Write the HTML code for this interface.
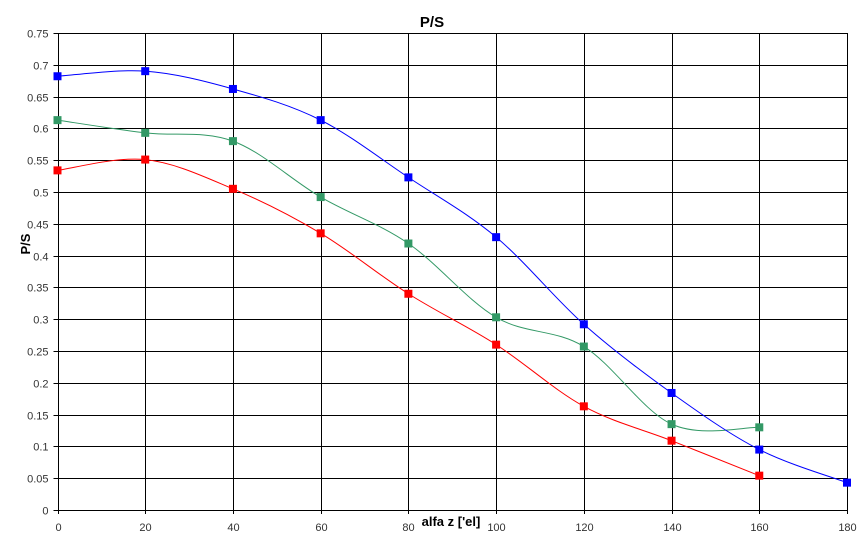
<!DOCTYPE html>
<html><head><meta charset="utf-8"><style>
body{margin:0;background:#fff}
svg{display:block;font-family:"Liberation Sans",sans-serif}
</style></head><body>
<svg id="chart" width="865" height="545"></svg>
<script>
const categories=[0,20,40,60,80,100,120,140,160,180];
const blueValues=[0.682,0.690,0.662,0.613,0.523,0.429,0.292,0.184,0.095,0.043];
const greenValues=[0.613,0.593,0.580,0.492,0.419,0.303,0.257,0.135,0.130];
const redValues=[0.534,0.551,0.505,0.435,0.340,0.260,0.163,0.109,0.054];
const yTicks=[0,0.05,0.1,0.15,0.2,0.25,0.3,0.35,0.4,0.45,0.5,0.55,0.6,0.65,0.7,0.75];
const xTicks=[0,20,40,60,80,100,120,140,160,180];
const NS="http://www.w3.org/2000/svg";
const svg=document.getElementById('chart');
const X0=57.5,X1=847,Y0=510,Y1=33;
const xs=v=>X0+(v/180)*(X1-X0);
const ys=v=>Y0-(v/0.75)*(Y0-Y1);
function mk(t,a,p){const e=document.createElementNS(NS,t);for(const k in a)e.setAttribute(k,a[k]);(p||svg).appendChild(e);return e;}
const grid=mk('g',{});


yTicks.forEach(t=>{
  const y=Math.round(ys(t))+0.5;
  const l=mk('line',{x1:X0-4,x2:X1,y1:y,y2:y,stroke:'#000','stroke-width':1},grid);
  
  
  const tx=mk('text',{x:X0-9,y:y+4,'text-anchor':'end','font-size':11,fill:'#333'});
  tx.textContent=String(t);
  
  
});
xTicks.forEach(t=>{
  const x=Math.round(xs(t))+0.5;
  const l=mk('line',{x1:x,x2:x,y1:Y1,y2:Y0+4,stroke:'#000','stroke-width':1},grid);
  
  
  const tx=mk('text',{x:x,y:Y0+21,'text-anchor':'middle','font-size':11,fill:'#333'});
  tx.textContent=String(t);
  
  
});
function series(vals,color,name){
  const g=mk('g',{});
  
  
  const pts=vals.map((v,i)=>[xs(categories[i]),ys(v)]);
  let d='M'+pts[0][0]+','+pts[0][1];
  for(let i=0;i<pts.length-1;i++){
    const p0=pts[i-1]||pts[i],p1=pts[i],p2=pts[i+1],p3=pts[i+2]||p2;
    const c1=[p1[0]+(p2[0]-p0[0])/6,p1[1]+(p2[1]-p0[1])/6];
    const c2=[p2[0]-(p3[0]-p1[0])/6,p2[1]-(p3[1]-p1[1])/6];
    d+=' C'+c1+' '+c2+' '+p2;
  }
  const path=mk('path',{d:d,fill:'none',stroke:color,'stroke-width':1},g);
  
  
  pts.forEach(p=>{
    const r=mk('rect',{x:p[0]-4,y:p[1]-4,width:8,height:8,fill:color},g);
    
    
  });
}
series(redValues,'#ff0000','series-red');
series(greenValues,'#339966','series-green');
series(blueValues,'#0000ff','series-blue');
const title=mk('text',{x:432,y:27,'text-anchor':'middle','font-size':15,'font-weight':'bold'});
title.textContent='P/S';


const xt=mk('text',{x:451,y:526,'text-anchor':'middle','font-size':13,'font-weight':'bold'});
xt.textContent="alfa z ['el]";


const yt=mk('text',{x:0,y:0,'text-anchor':'middle','font-size':13,'font-weight':'bold',transform:'translate(30,244) rotate(-90)'});
yt.textContent='P/S';


</script>
</body></html>
